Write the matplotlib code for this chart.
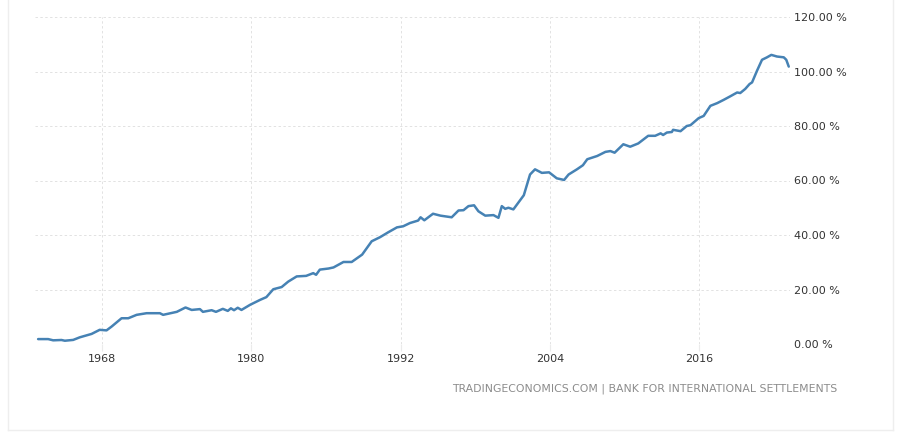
import matplotlib
matplotlib.use("Agg")
import matplotlib.pyplot as plt
from matplotlib.lines import Line2D

# Data (decimal year, % of GDP)
years = [1962.85, 1963.66, 1964.06, 1964.73, 1965.0, 1965.67, 1966.2, 1967.15, 1967.8,
         1968.35, 1968.76, 1969.56, 1970.1, 1970.77, 1971.57, 1972.64, 1972.9, 1974.0,
         1974.7, 1975.2, 1975.86, 1976.1, 1976.8, 1977.15, 1977.7, 1978.1, 1978.35,
         1978.6, 1978.9, 1979.2, 1979.9, 1980.7, 1981.2, 1981.76, 1982.43, 1982.96,
         1983.64, 1984.4, 1984.97, 1985.2, 1985.5, 1986.2, 1986.6, 1987.4, 1988.06,
         1988.9, 1989.67, 1990.34, 1991.0, 1991.7, 1992.2, 1992.75, 1993.4, 1993.6,
         1993.9, 1994.6, 1995.2, 1996.1, 1996.65, 1997.05, 1997.45, 1997.9, 1998.25,
         1998.8, 1999.46, 1999.86, 2000.13, 2000.4, 2000.66, 2001.06, 2001.9, 2002.4,
         2002.8, 2003.35, 2003.93, 2004.55, 2005.14, 2005.5, 2006.17, 2006.65, 2007.0,
         2007.8, 2008.46, 2008.86, 2009.2, 2009.9, 2010.45, 2011.1, 2011.9, 2012.46,
         2012.9, 2013.1, 2013.4, 2013.8, 2013.9, 2014.5, 2015.0, 2015.3, 2015.96,
         2016.36, 2016.9, 2017.45, 2017.97, 2018.5, 2019.05, 2019.3, 2019.7, 2020.05,
         2020.25, 2020.65, 2021.05, 2021.45, 2021.8, 2022.25, 2022.8, 2023.0, 2023.2]
values = [1.8, 1.8, 1.35, 1.47, 1.2, 1.5, 2.45, 3.7, 5.2,
          5.0, 6.4, 9.45, 9.45, 10.7, 11.3, 11.3, 10.7, 11.8,
          13.4, 12.5, 12.8, 11.8, 12.4, 11.8, 12.9, 12.15, 13.1,
          12.4, 13.3, 12.5, 14.4, 16.2, 17.2, 20.1, 20.9, 22.9,
          24.8, 25.0, 26.0, 25.4, 27.3, 27.7, 28.1, 30.1, 30.1,
          32.8, 37.7, 39.2, 41.0, 42.8, 43.2, 44.4, 45.3, 46.5,
          45.4, 47.8, 47.1, 46.5, 49.0, 49.1, 50.6, 50.9, 48.7,
          47.1, 47.3, 46.3, 50.6, 49.6, 50.0, 49.4, 54.6, 62.2,
          64.1, 62.8, 63.0, 60.8, 60.2, 62.2, 64.1, 65.6, 67.8,
          69.0, 70.5, 70.8, 70.2, 73.3, 72.4, 73.6, 76.4, 76.4,
          77.3, 76.7, 77.6, 77.8, 78.6, 78.1, 80.0, 80.3, 82.9,
          83.7, 87.4, 88.4, 89.6, 90.9, 92.3, 92.1, 93.6, 95.4,
          96.0, 100.3, 104.3, 105.2, 106.1, 105.5, 105.2, 104.3, 101.8]

xticks = [1968, 1980, 1992, 2004, 2016]
yticks = [0, 20, 40, 60, 80, 100, 120]
ytick_labels = ["0.00 %", "20.00 %", "40.00 %", "60.00 %", "80.00 %", "100.00 %", "120.00 %"]
source = "TRADINGECONOMICS.COM | BANK FOR INTERNATIONAL SETTLEMENTS"

W, H = 900, 433
fig = plt.figure(figsize=(W / 100, H / 100), dpi=100)
fig.patch.set_facecolor("white")

ax = fig.add_axes([35 / W, (H - 344) / H, (790 - 35) / W, (344 - 17) / H])
ax.plot(years, values, color="#4682b4", linewidth=1.8, solid_joinstyle="round",
        solid_capstyle="round")

ax.set_xlim(1962.6, 2023.3)
ax.set_ylim(0, 120)
ax.set_xticks(xticks)
ax.set_xticklabels([str(t) for t in xticks])
ax.set_yticks(yticks)
ax.set_yticklabels(ytick_labels)

ax.yaxis.tick_right()
for s in ax.spines.values():
    s.set_visible(False)
ax.grid(True, color="#e2e2e2", linestyle=(0, (2.5, 2.5)), linewidth=0.7)
ax.tick_params(axis="y", length=0, pad=3, labelsize=8.0, labelcolor="#333333")
ax.tick_params(axis="x", length=5, color="#ebebeb", pad=2, labelsize=8.0,
               labelcolor="#333333")
for lbl in ax.get_yticklabels():
    lbl.set_horizontalalignment("left")
ax.set_axisbelow(True)

fig.text(837 / W, 1 - 389 / H, source, ha="right", va="center", fontsize=7.85,
         color="#8c8c8c")

# light outer frame
frame_c = "#eeeeee"
fig.add_artist(Line2D([8 / W, 8 / W], [1 - 430 / H, 1.0], transform=fig.transFigure,
                      color=frame_c, linewidth=1))
fig.add_artist(Line2D([893 / W, 893 / W], [1 - 430 / H, 1.0], transform=fig.transFigure,
                      color=frame_c, linewidth=1))
fig.add_artist(Line2D([8 / W, 893 / W], [1 - 430 / H, 1 - 430 / H],
                      transform=fig.transFigure, color=frame_c, linewidth=1))

fig.savefig("out.png", dpi=100, facecolor="white")
